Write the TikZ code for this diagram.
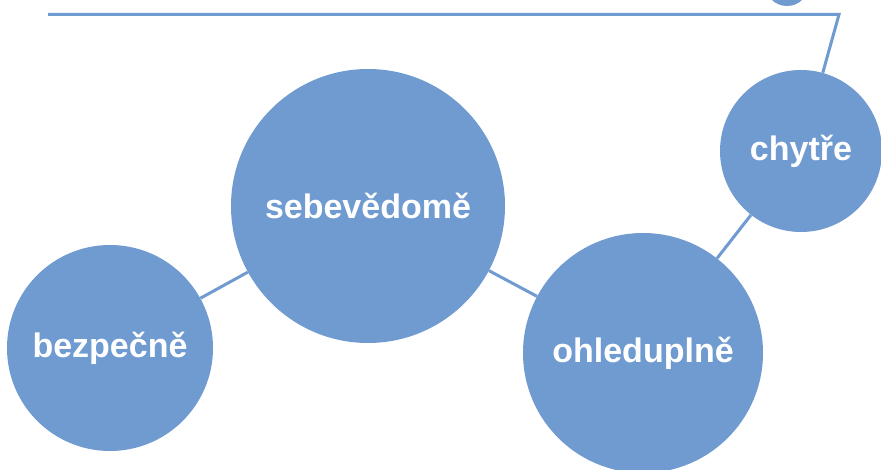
\documentclass[tikz,border=0pt]{standalone}
\usepackage{fontspec}
\setmainfont{Liberation Sans}
\definecolor{bub}{RGB}{112,155,208}
\tikzset{
  bubble/.style={circle, fill=bub, draw=none, inner sep=0pt, text=white,
    font=\fontsize{34}{40}\selectfont\bfseries},
  link/.style={draw=bub, line width=3pt}
}
\begin{document}
\begin{tikzpicture}[x=1pt,y=-1pt]
\useasboundingbox (0,0) rectangle (881,470);
\fill[white] (0,0) rectangle (881,470);
\node[bubble, minimum size=44pt] (top) at (787,-16) {};
\node[bubble, minimum size=274pt] (sebe) at (368,206) {sebevědomě};
\node[bubble, minimum size=206pt] (bezp) at (110,348) {bezpečně};
\node[bubble, minimum size=240pt] (ohle) at (643,353) {ohleduplně};
\node[bubble, minimum size=162pt] (chyt) at (801,151) {chytře};
\coordinate (corner) at (839,14.5);
\coordinate (lend) at (48,14.5);
\draw[link] (bezp) -- (sebe);
\draw[link] (sebe) -- (ohle);
\draw[link] (ohle) -- (chyt);
\draw[link] (lend) -- (corner) -- (chyt);
\end{tikzpicture}
\end{document}
